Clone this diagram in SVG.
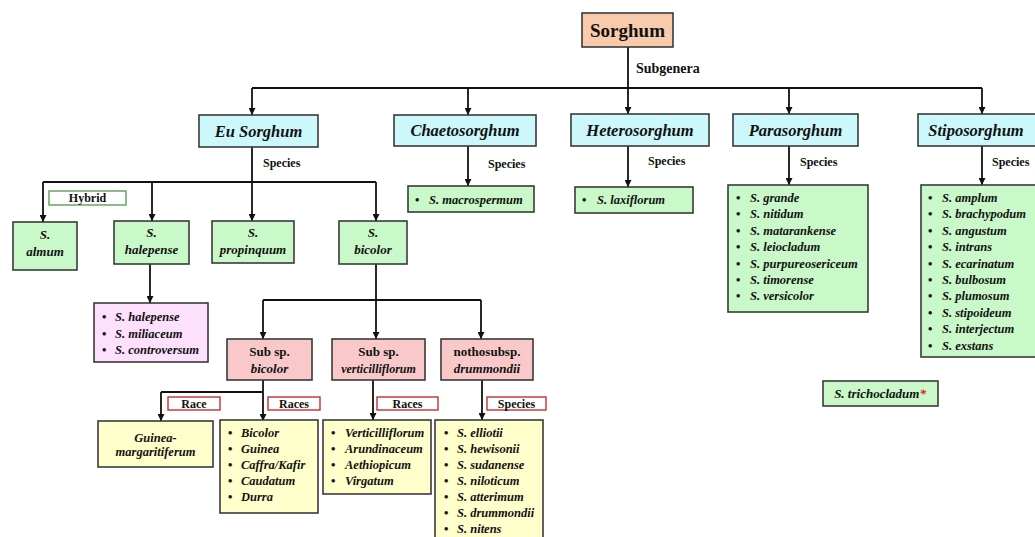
<svg xmlns="http://www.w3.org/2000/svg" width="1035" height="537" viewBox="0 0 1035 537">
<style>
text{font-family:"Liberation Serif","Times New Roman",serif;font-weight:bold;fill:#111}
.it{font-style:italic}
.box{stroke:#3a3a3a;stroke-width:1.6}
.peach{fill:#f8cbad}
.blue{fill:#ccf7fb}
.green{fill:#c9f8c9}
.lilac{fill:#fde0fc}
.pink{fill:#f9c9c9}
.yellow{fill:#ffffcc}
.hyb{fill:#fff;stroke:#5d9e5d;stroke-width:1.4}
.red{fill:#fff;stroke:#c3302f;stroke-width:1.4}
.t18{font-size:18px}
.t16{font-size:16.5px}
.t14{font-size:14px}
.t13{font-size:13px}
.t12{font-size:12.5px}
.lbl{font-size:12px}
.c{text-anchor:middle}
.ln{fill:none;stroke:#111;stroke-width:1.8}
.ar{fill:none;stroke:#111;stroke-width:1.8;marker-end:url(#ah)}
</style>
<defs>
<marker id="ah" viewBox="0 0 10 10" refX="10" refY="5" markerWidth="7" markerHeight="7" markerUnits="userSpaceOnUse" orient="auto">
<path d="M0,0 L10,5 L0,10 z" fill="#111"/>
</marker>
</defs>
<rect width="1035" height="537" fill="#fff"/>

<g id="connectors">
<path class="ln" d="M628,47 V88 M252,88 H982"/>
<path class="ar" d="M252,88 V115"/>
<path class="ar" d="M468,88 V115"/>
<path class="ar" d="M628,88 V114"/>
<path class="ar" d="M789,88 V114"/>
<path class="ar" d="M982,88 V114"/>
<path class="ln" d="M252,147 V182 M43,182 H376"/>
<path class="ar" d="M43,182 V222"/>
<path class="ar" d="M152,182 V221"/>
<path class="ar" d="M252,182 V221"/>
<path class="ar" d="M376,182 V221"/>
<path class="ar" d="M468,146 V186"/>
<path class="ar" d="M628,146 V187"/>
<path class="ar" d="M789,146 V185"/>
<path class="ar" d="M982,146 V185"/>
<path class="ar" d="M150,264 V303"/>
<path class="ln" d="M263,300 H481"/>
<path class="ar" d="M376,264 V339"/>
<path class="ar" d="M263,300 V339"/>
<path class="ar" d="M481,300 V339"/>
<path class="ln" d="M161,392 H263"/>
<path class="ar" d="M263,380 V421"/>
<path class="ar" d="M161,392 V421"/>
<path class="ar" d="M373,380 V420"/>
<path class="ar" d="M482,380 V420"/>
</g>

<g id="sorghum">
<rect class="box peach" x="582" y="13" width="91" height="34"/>
<text class="t18 c" x="627.5" y="37" style="font-size:19px">Sorghum</text>
</g>
<text id="lbl-subgenera" class="t14" x="636" y="73">Subgenera</text>

<g id="eu-sorghum">
<rect class="box blue" x="199" y="115" width="119" height="32"/>
<text class="t16 it c" x="258.5" y="137">Eu Sorghum</text>
</g>
<g id="chaetosorghum">
<rect class="box blue" x="394" y="115" width="142" height="31"/>
<text class="t16 it c" x="465" y="136">Chaetosorghum</text>
</g>
<g id="heterosorghum">
<rect class="box blue" x="571" y="114" width="138" height="32"/>
<text class="t16 it c" x="640" y="136">Heterosorghum</text>
</g>
<g id="parasorghum">
<rect class="box blue" x="733" y="114" width="125" height="32"/>
<text class="t16 it c" x="795.5" y="136">Parasorghum</text>
</g>
<g id="stiposorghum">
<rect class="box blue" x="918" y="114" width="125" height="32"/>
<text class="t16 it c" x="976" y="136">Stiposorghum</text>
</g>

<text class="lbl" x="263" y="167">Species</text>
<text class="lbl" x="488" y="168">Species</text>
<text class="lbl" x="648" y="165">Species</text>
<text class="lbl" x="800" y="166">Species</text>
<text class="lbl" x="992" y="166">Species</text>

<g id="hybrid">
<rect class="hyb" x="49" y="191" width="77" height="14"/>
<text class="lbl c" x="87.5" y="202">Hybrid</text>
</g>

<g id="s-almum">
<rect class="box green" x="13" y="222" width="64" height="48"/>
<text class="t13 it c" x="45" y="239">S.</text>
<text class="t13 it c" x="45" y="256">almum</text>
</g>
<g id="s-halepense">
<rect class="box green" x="114" y="221" width="75" height="43"/>
<text class="t13 it c" x="151.5" y="237">S.</text>
<text class="t13 it c" x="151.5" y="254">halepense</text>
</g>
<g id="s-propinquum">
<rect class="box green" x="212" y="221" width="82" height="42"/>
<text class="t13 it c" x="253" y="237">S.</text>
<text class="t13 it c" x="253" y="254">propinquum</text>
</g>
<g id="s-bicolor">
<rect class="box green" x="339" y="221" width="68" height="43"/>
<text class="t13 it c" x="373" y="237">S.</text>
<text class="t13 it c" x="373" y="254">bicolor</text>
</g>

<g id="halepense-list">
<rect class="box lilac" x="94" y="303" width="114" height="59"/>
<text class="t12" x="102" y="321">•<tspan class="it" x="115">S. halepense</tspan></text>
<text class="t12" x="102" y="338">•<tspan class="it" x="115">S. miliaceum</tspan></text>
<text class="t12" x="102" y="354">•<tspan class="it" x="115">S. controversum</tspan></text>
</g>

<g id="macrospermum">
<rect class="box green" x="408" y="186" width="126" height="26"/>
<text class="t12" x="415" y="204">•<tspan class="it" x="429">S. macrospermum</tspan></text>
</g>
<g id="laxiflorum">
<rect class="box green" x="575" y="187" width="118" height="26"/>
<text class="t12" x="582" y="204">•<tspan class="it" x="597">S. laxiflorum</tspan></text>
</g>

<g id="parasorghum-list">
<rect class="box green" x="728" y="185" width="140" height="127"/>
<text class="t12" x="736" y="202">•<tspan class="it" x="750">S. grande</tspan></text>
<text class="t12" x="736" y="218.4">•<tspan class="it" x="750">S. nitidum</tspan></text>
<text class="t12" x="736" y="234.8">•<tspan class="it" x="750">S. matarankense</tspan></text>
<text class="t12" x="736" y="251.2">•<tspan class="it" x="750">S. leiocladum</tspan></text>
<text class="t12" x="736" y="267.6">•<tspan class="it" x="750">S. purpureosericeum</tspan></text>
<text class="t12" x="736" y="284">•<tspan class="it" x="750">S. timorense</tspan></text>
<text class="t12" x="736" y="300.4">•<tspan class="it" x="750">S. versicolor</tspan></text>
</g>

<g id="stiposorghum-list">
<rect class="box green" x="921" y="185" width="122" height="172"/>
<text class="t12" x="928" y="202">•<tspan class="it" x="942">S. amplum</tspan></text>
<text class="t12" x="928" y="218.4">•<tspan class="it" x="942">S. brachypodum</tspan></text>
<text class="t12" x="928" y="234.8">•<tspan class="it" x="942">S. angustum</tspan></text>
<text class="t12" x="928" y="251.2">•<tspan class="it" x="942">S. intrans</tspan></text>
<text class="t12" x="928" y="267.6">•<tspan class="it" x="942">S. ecarinatum</tspan></text>
<text class="t12" x="928" y="284">•<tspan class="it" x="942">S. bulbosum</tspan></text>
<text class="t12" x="928" y="300.4">•<tspan class="it" x="942">S. plumosum</tspan></text>
<text class="t12" x="928" y="316.8">•<tspan class="it" x="942">S. stipoideum</tspan></text>
<text class="t12" x="928" y="333.2">•<tspan class="it" x="942">S. interjectum</tspan></text>
<text class="t12" x="928" y="349.6">•<tspan class="it" x="942">S. exstans</tspan></text>
</g>

<g id="trichocladum">
<rect class="box green" x="823" y="381" width="115" height="25"/>
<text class="t13 it c" x="880" y="398">S. trichocladum<tspan fill="#e02020" style="fill:#e02020">*</tspan></text>
</g>

<g id="subsp-bicolor">
<rect class="box pink" x="227" y="339" width="85" height="41"/>
<text class="t13 c" x="269.5" y="356">Sub sp.</text>
<text class="t13 it c" x="269.5" y="373">bicolor</text>
</g>
<g id="subsp-verticilliflorum">
<rect class="box pink" x="332" y="339" width="93" height="41"/>
<text class="t13 c" x="378.5" y="356">Sub sp.</text>
<text class="t13 it c" x="378.5" y="373" style="font-size:12px">verticilliflorum</text>
</g>
<g id="nothosubsp-drummondii">
<rect class="box pink" x="441" y="339" width="92" height="41"/>
<text class="t13 c" x="487" y="356">nothosubsp.</text>
<text class="t13 it c" x="487" y="373">drummondii</text>
</g>

<g id="lbl-race">
<rect class="red" x="168" y="397" width="52" height="13"/>
<text class="lbl c" x="194" y="408">Race</text>
</g>
<g id="lbl-races-1">
<rect class="red" x="268" y="397" width="52" height="13"/>
<text class="lbl c" x="294" y="408">Races</text>
</g>
<g id="lbl-races-2">
<rect class="red" x="377" y="397" width="61" height="13"/>
<text class="lbl c" x="407.5" y="408">Races</text>
</g>
<g id="lbl-species">
<rect class="red" x="487" y="397" width="59" height="13"/>
<text class="lbl c" x="516.5" y="408">Species</text>
</g>

<g id="guinea-margaritiferum">
<rect class="box yellow" x="98" y="421" width="115" height="46"/>
<text class="t12 it c" x="155.5" y="442">Guinea-</text>
<text class="t12 it c" x="155.5" y="456">margaritiferum</text>
</g>

<g id="bicolor-races">
<rect class="box yellow" x="220" y="420" width="98" height="93"/>
<text class="t12" x="228" y="437">•<tspan class="it" x="241">Bicolor</tspan></text>
<text class="t12" x="228" y="453">•<tspan class="it" x="241">Guinea</tspan></text>
<text class="t12" x="228" y="469">•<tspan class="it" x="241">Caffra/Kafir</tspan></text>
<text class="t12" x="228" y="485">•<tspan class="it" x="241">Caudatum</tspan></text>
<text class="t12" x="228" y="501">•<tspan class="it" x="241">Durra</tspan></text>
</g>

<g id="verticilliflorum-races">
<rect class="box yellow" x="323" y="420" width="108" height="74"/>
<text class="t12" x="331" y="437">•<tspan class="it" x="345">Verticilliflorum</tspan></text>
<text class="t12" x="331" y="453">•<tspan class="it" x="345">Arundinaceum</tspan></text>
<text class="t12" x="331" y="469">•<tspan class="it" x="345">Aethiopicum</tspan></text>
<text class="t12" x="331" y="485">•<tspan class="it" x="345">Virgatum</tspan></text>
</g>

<g id="drummondii-species">
<rect class="box yellow" x="435" y="420" width="108" height="125"/>
<text class="t12" x="444" y="437">•<tspan class="it" x="457">S. elliotii</tspan></text>
<text class="t12" x="444" y="453">•<tspan class="it" x="457">S. hewisonii</tspan></text>
<text class="t12" x="444" y="469">•<tspan class="it" x="457">S. sudanense</tspan></text>
<text class="t12" x="444" y="485">•<tspan class="it" x="457">S. niloticum</tspan></text>
<text class="t12" x="444" y="501">•<tspan class="it" x="457">S. atterimum</tspan></text>
<text class="t12" x="444" y="517">•<tspan class="it" x="457">S. drummondii</tspan></text>
<text class="t12" x="444" y="533">•<tspan class="it" x="457">S. nitens</tspan></text>
</g>
</svg>
